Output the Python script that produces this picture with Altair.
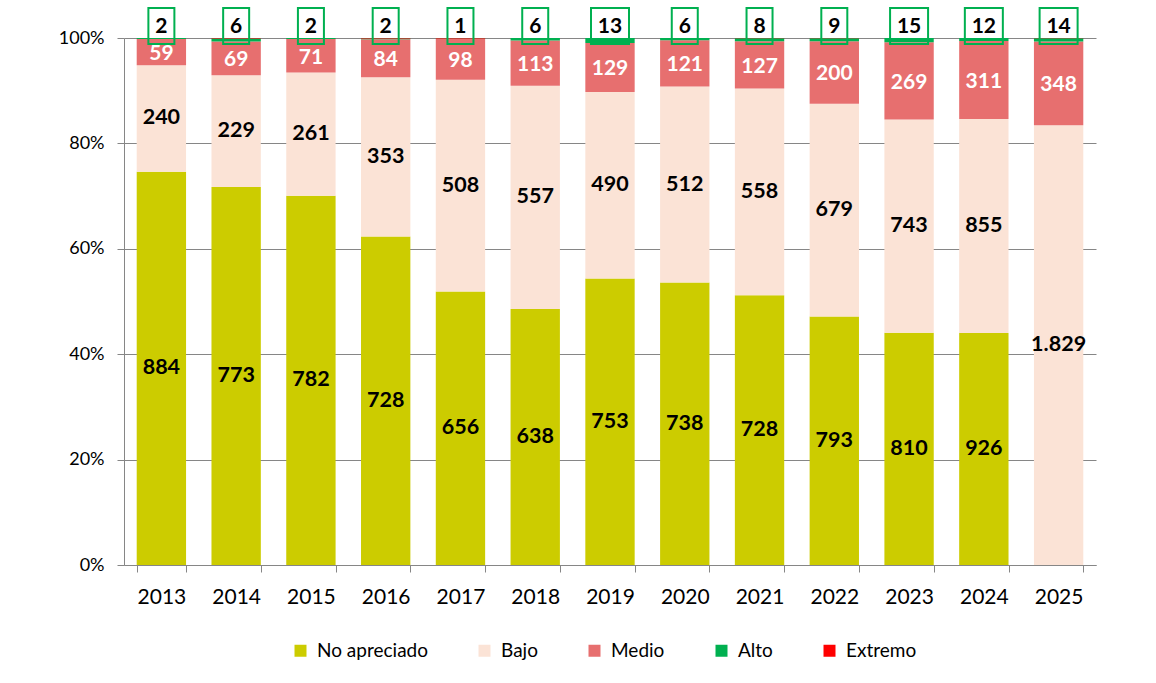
import altair as alt
import pandas as pd

# Yearly counts per risk level
years = ["2013", "2014", "2015", "2016", "2017", "2018", "2019",
         "2020", "2021", "2022", "2023", "2024", "2025"]
no_apreciado = [884, 773, 782, 728, 656, 638, 753, 738, 728, 793, 810, 926, 0]
bajo = [240, 229, 261, 353, 508, 557, 490, 512, 558, 679, 743, 855, 1829]
medio = [59, 69, 71, 84, 98, 113, 129, 121, 127, 200, 269, 311, 348]
alto = [2, 6, 2, 2, 1, 6, 13, 6, 8, 9, 15, 12, 14]
extremo = [0, 1, 0, 1, 1, 0, 0, 0, 1, 1, 0, 0, 1]

categories = ["No apreciado", "Bajo", "Medio", "Alto", "Extremo"]
colors = ["#CCCC00", "#FBE3D6", "#E76F6F", "#00B050", "#FF0000"]
series = [no_apreciado, bajo, medio, alto, extremo]

FONT = "Lato"


def es_num(v):
    return f"{v:,}".replace(",", ".")


rows = []
for k, (cat, vals) in enumerate(zip(categories, series)):
    for y, v in zip(years, vals):
        rows.append({"year": y, "cat": cat, "order": k, "value": v,
                     "label": es_num(v), "digits": len(str(v))})
df = pd.DataFrame(rows)

x_enc = alt.X(
    "year:N",
    title=None,
    scale=alt.Scale(paddingInner=0.34, paddingOuter=0.17),
    axis=alt.Axis(labelAngle=0, labelFontSize=21, labelFont=FONT,
                  labelColor="#000000", labelPadding=14,
                  domainColor="#868686", tickColor="#868686",
                  tickSize=7, tickBand="extent"),
)

base = (
    alt.Chart(df)
    .transform_stack(stack="value", groupby=["year"], as_=["y0", "y1"],
                     offset="normalize",
                     sort=[alt.SortField("order", order="ascending")])
    .transform_calculate(mid="(datum.y0 + datum.y1) / 2")
)

bars = base.mark_bar().encode(
    x=x_enc,
    y=alt.Y("y0:Q", title=None,
            scale=alt.Scale(domain=[0, 1]),
            axis=alt.Axis(format=".0%", values=[0, 0.2, 0.4, 0.6, 0.8, 1.0],
                          labelFontSize=18, labelFont=FONT,
                          labelColor="#000000", labelPadding=13,
                          grid=True, gridColor="#868686",
                          domainColor="#868686", tickColor="#868686",
                          tickSize=7)),
    y2="y1:Q",
    color=alt.Color("cat:N", title=None,
                    scale=alt.Scale(domain=categories, range=colors),
                    legend=alt.Legend(orient="none", direction="horizontal",
                                      legendX=167, legendY=603,
                                      symbolType="square", symbolSize=144,
                                      symbolStrokeWidth=0,
                                      labelFontSize=19, labelFont=FONT,
                                      labelColor="#000000",
                                      columnPadding=47, labelOffset=7)),
    order=alt.Order("order:Q"),
)

dark_labels = base.transform_filter(
    "(datum.cat == 'No apreciado' || datum.cat == 'Bajo') && datum.value > 0"
).mark_text(fontSize=21.5, fontWeight="bold", font=FONT, color="#000000",
            baseline="middle").encode(x="year:N", y="mid:Q", text="label:N")

medio_labels = base.transform_filter("datum.cat == 'Medio'").mark_text(
    fontSize=21, fontWeight="bold", font=FONT, color="#FFFFFF",
    baseline="middle", dy=2).encode(x="year:N", y="mid:Q", text="label:N")

alto_data = alt.Chart(df).transform_filter("datum.cat == 'Alto'")

box_small = alto_data.transform_filter("datum.digits == 1").mark_bar(
    width=26, fill="transparent", stroke="#00B050", strokeWidth=2
).encode(x="year:N", y=alt.value(-30), y2=alt.value(6))

box_wide = alto_data.transform_filter("datum.digits > 1").mark_bar(
    width=38, fill="transparent", stroke="#00B050", strokeWidth=2
).encode(x="year:N", y=alt.value(-30), y2=alt.value(6))

alto_labels = alto_data.mark_text(
    fontSize=21, fontWeight="bold", font=FONT, color="#000000",
    baseline="middle").encode(x="year:N", y=alt.value(-11), text="label:N")

chart = (
    alt.layer(bars, dark_labels, medio_labels, box_small, box_wide, alto_labels)
    .properties(width=972, height=527,
                autosize=alt.AutoSizeParams(type="none"),
                padding={"left": 124, "top": 38, "right": 60, "bottom": 118},
                background="#FFFFFF")
    .configure_view(stroke=None)
)

chart.save("out.html", embed_options={"renderer": "svg", "actions": False})
